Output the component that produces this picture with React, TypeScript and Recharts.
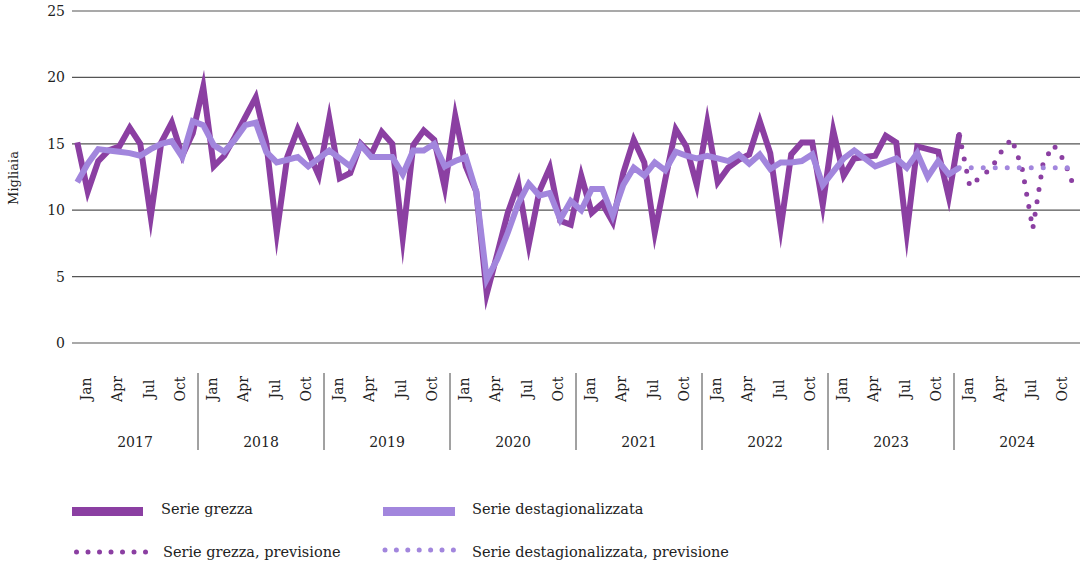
import React from 'react';
import { LineChart, Line, XAxis, YAxis, CartesianGrid } from 'recharts';

const GREZZA = '#8B3FA2';
const DESTAG = '#A286DD';
const FONT = '"DejaVu Serif", serif';

const years = ['2017', '2018', '2019', '2020', '2021', '2022', '2023', '2024'];
const monthNames = ['Jan', 'Feb', 'Mar', 'Apr', 'May', 'Jun', 'Jul', 'Aug', 'Sep', 'Oct', 'Nov', 'Dec'];
const yTicks = [0, 5, 10, 15, 20, 25];

// migliaia, gen 2017 - gen 2024
const serieGrezza = [
  15.1, 11.4, 13.7, 14.5, 14.8, 16.2, 15.0, 9.5, 15.1, 16.6, 14.1, 15.8,
  19.3, 13.3, 14.1, 15.5, 17.0, 18.5, 15.1, 8.3, 14.0, 16.1, 14.4, 12.6,
  16.9, 12.4, 12.8, 15.0, 14.2, 15.9, 15.0, 7.9, 14.9, 16.0, 15.3, 11.7,
  17.1, 13.3, 11.4, 3.7, 6.7, 9.8, 12.0, 7.4, 11.4, 13.2, 9.2, 8.9,
  12.6, 9.8, 10.5, 9.1, 12.8, 15.3, 13.6, 8.3, 12.3, 16.1, 14.8, 11.9,
  16.6, 12.1, 13.2, 13.8, 14.2, 16.7, 14.3, 8.7, 14.2, 15.1, 15.1, 10.4,
  16.0, 12.6, 13.9, 14.0, 14.1, 15.6, 15.1, 8.3, 14.8, 14.6, 14.4, 11.0,
  15.7,
];

const serieDestag = [
  12.1, 13.5, 14.6, 14.5, 14.4, 14.3, 14.1, 14.6, 15.0, 15.2, 14.0, 16.7,
  16.4, 14.9, 14.4, 15.3, 16.4, 16.6, 14.4, 13.6, 13.8, 14.0, 13.3, 13.9,
  14.5, 13.9, 13.3, 14.9, 14.0, 14.0, 14.0, 12.7, 14.5, 14.5, 15.0, 13.3,
  13.7, 14.0, 11.4, 4.8, 6.3, 8.3, 10.5, 12.0, 11.1, 11.3, 9.3, 10.7,
  10.0, 11.6, 11.6, 9.6, 11.9, 13.2, 12.6, 13.6, 13.0, 14.4, 14.1, 13.9,
  14.1, 13.9, 13.7, 14.2, 13.5, 14.2, 13.1, 13.6, 13.6, 13.7, 14.2, 11.9,
  12.9, 13.9, 14.5, 13.9, 13.3, 13.6, 13.9, 13.2, 14.3, 12.5, 13.7, 12.7,
  13.2,
];

// previsione 2024
const previsioneGrezza = [15.7, 11.8, 12.5, 13.1, 14.4, 15.4, 13.1, 8.6, 13.6, 14.9, 13.7, 11.6];
const previsioneDestag = [13.2, 13.2, 13.2, 13.2, 13.2, 13.2, 13.2, 13.2, 13.2, 13.2, 13.2, 13.2];

const FORECAST_START = serieGrezza.length - 1;

const data = years.flatMap((year, y) =>
  monthNames.map((month, m) => {
    const i = y * 12 + m;
    return {
      i,
      year,
      month,
      grezza: serieGrezza[i],
      destag: serieDestag[i],
      prevGrezza: i >= FORECAST_START ? previsioneGrezza[i - FORECAST_START] : undefined,
      prevDestag: i >= FORECAST_START ? previsioneDestag[i - FORECAST_START] : undefined,
    };
  })
);

const WIDTH = 1086;
const HEIGHT = 564;
const PLOT_LEFT = 72;
const PLOT_RIGHT = 6;
const MONTH_W = (WIDTH - PLOT_LEFT - PLOT_RIGHT) / data.length;

function MonthTick(props: any) {
  const { x, y, payload } = props;
  const i = payload.value as number;
  const m = i % 12;
  const half = MONTH_W / 2;
  return (
    <g>
      {m % 3 === 0 && (
        <text
          transform={`translate(${x + 13.5},${y + 46}) rotate(-90)`}
          textAnchor="middle"
          fontSize={14}
          fill="#222"
        >
          {monthNames[m]}
        </text>
      )}
      {m === 0 && i > 0 && (
        <line x1={x - half} x2={x - half} y1={y + 30} y2={y + 107} stroke="#444" strokeWidth={1} />
      )}
      {m === 0 && (
        <text x={x - half + 6 * MONTH_W} y={y + 104} textAnchor="middle" fontSize={14} fill="#222">
          {years[i / 12]}
        </text>
      )}
    </g>
  );
}

function Legend() {
  const dots = [0, 1, 2, 3, 4, 5, 6];
  return (
    <svg width={WIDTH} height={HEIGHT} style={{ position: 'absolute', left: 0, top: 0, pointerEvents: 'none' }}>
      <text transform="translate(18,178) rotate(-90)" textAnchor="middle" fontSize={13} fill="#222">
        Migliaia
      </text>

      <rect x={72} y={507} width={71} height={9} fill={GREZZA} />
      <text x={161} y={514} fontSize={14.5} fill="#222">Serie grezza</text>
      <rect x={383} y={507} width={72} height={9} fill={DESTAG} />
      <text x={472} y={514} fontSize={14.5} fill="#222">Serie destagionalizzata</text>

      {dots.map((k) => (
        <circle key={`g${k}`} cx={76.5 + k * 11.5} cy={552} r={2.5} fill={GREZZA} />
      ))}
      <text x={163} y={557} fontSize={14.5} fill="#222">Serie grezza, previsione</text>
      {dots.map((k) => (
        <circle key={`d${k}`} cx={385 + k * 11.4} cy={550} r={2.5} fill={DESTAG} />
      ))}
      <text x={472} y={557} fontSize={14.5} fill="#222">Serie destagionalizzata, previsione</text>
    </svg>
  );
}

export default function App() {
  return (
    <div style={{ position: 'relative', width: WIDTH, height: HEIGHT, fontFamily: FONT, background: '#fff' }}>
      <style>{'body{margin:0}'}</style>
      <LineChart
        width={WIDTH}
        height={HEIGHT}
        data={data}
        margin={{ top: 11, right: PLOT_RIGHT, left: 0, bottom: 121 }}
      >
        <CartesianGrid vertical={false} stroke="#555" strokeWidth={1.2} />
        <XAxis
          dataKey="i"
          type="number"
          domain={[-0.5, data.length - 0.5]}
          ticks={data.map((d) => d.i)}
          interval={0}
          tick={(p: any) => <MonthTick {...p} />}
          tickLine={false}
          axisLine={false}
          tickSize={0}
          tickMargin={0}
          height={100}
        />
        <YAxis
          domain={[0, 25]}
          ticks={yTicks}
          interval={0}
          width={PLOT_LEFT}
          axisLine={false}
          tickLine={false}
          tickSize={0}
          tickMargin={7}
          tick={{ fontSize: 14, fill: '#222' }}
        />
        <Line
          type="linear"
          dataKey="grezza"
          stroke={GREZZA}
          strokeWidth={6}
          strokeMiterlimit={12}
          dot={false}
          activeDot={false}
          isAnimationActive={false}
        />
        <Line
          type="linear"
          dataKey="destag"
          stroke={DESTAG}
          strokeWidth={6}
          strokeMiterlimit={12}
          dot={false}
          activeDot={false}
          isAnimationActive={false}
        />
        <Line
          type="linear"
          dataKey="prevGrezza"
          stroke={GREZZA}
          strokeWidth={5}
          strokeDasharray="0 12.5"
          strokeLinecap="round"
          dot={false}
          activeDot={false}
          isAnimationActive={false}
        />
        <Line
          type="linear"
          dataKey="prevDestag"
          stroke={DESTAG}
          strokeWidth={5}
          strokeDasharray="0 12"
          strokeLinecap="round"
          dot={false}
          activeDot={false}
          isAnimationActive={false}
        />
      </LineChart>
      <Legend />
    </div>
  );
}
